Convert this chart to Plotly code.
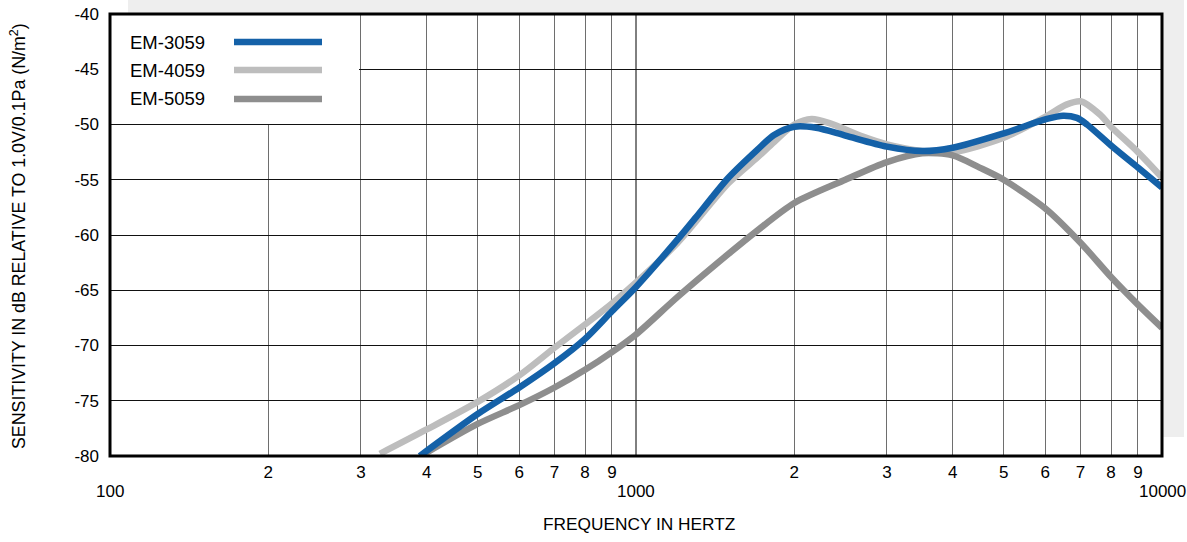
import math
import plotly.graph_objects as go

# ---- data ----
series_names = ["EM-3059", "EM-4059", "EM-5059"]

f_3059 = [388, 500, 600, 700, 800, 900, 1000, 1200, 1300, 1400, 1500, 1700, 1830, 2000, 2200,
          2500, 3000, 3500, 4000, 5000, 6040, 6485, 6890, 7200, 8000, 9000, 10000]
v_3059 = [-80.0, -76.2, -73.8, -71.6, -69.4, -66.9, -64.7, -60.4, -58.4, -56.5, -54.8, -52.3, -50.95, -50.2, -50.3,
          -51.0, -52.0, -52.4, -52.1, -50.8, -49.5, -49.2, -49.4, -50.0, -51.9, -53.9, -55.7]

f_4059 = [326, 400, 500, 600, 700, 800, 900, 1000, 1200, 1500, 1700, 1830, 2000, 2158, 2340, 2700,
          3000, 3500, 4000, 5000, 6000, 6580, 7000, 7620, 8000, 9000, 10000]
v_4059 = [-79.8, -77.6, -75.1, -72.7, -70.2, -68.1, -66.2, -64.3, -60.7, -55.3, -53.0, -51.6, -50.0, -49.5, -49.9, -51.1,
          -51.8, -52.4, -52.5, -51.2, -49.3, -48.2, -47.9, -49.1, -50.2, -52.5, -54.8]

f_5059 = [390, 500, 600, 700, 800, 900, 1000, 1200, 1500, 1700, 2000, 2500, 3000, 3500, 4000,
          4500, 5000, 6000, 7000, 8000, 9000, 10000]
v_5059 = [-80.0, -77.1, -75.4, -73.8, -72.2, -70.6, -69.0, -65.6, -61.7, -59.6, -57.1, -55.0, -53.4, -52.6, -52.8,
          -53.9, -55.0, -57.6, -60.7, -63.8, -66.3, -68.4]

x_tickvals = [200, 300, 400, 500, 600, 700, 800, 900,
              2000, 3000, 4000, 5000, 6000, 7000, 8000, 9000]
x_ticktext = ["2", "3", "4", "5", "6", "7", "8", "9",
              "2", "3", "4", "5", "6", "7", "8", "9"]
decade_vals = [100, 1000, 10000]
decade_text = ["100", "1000", "10000"]
y_tickvals = [-80, -75, -70, -65, -60, -55, -50, -45, -40]
y_ticktext = ["-80", "-75", "-70", "-65", "-60", "-55", "-50", "-45", "-40"]

x_range_log = [2, 4]
y_range = [-80, -40]

colors = {"EM-3059": "#1461a8", "EM-4059": "#bdbdbd", "EM-5059": "#8e8e8e"}
FONT = "Liberation Sans, Arial, sans-serif"

fig = go.Figure()
for name, fx, vy in [("EM-4059", f_4059, v_4059), ("EM-5059", f_5059, v_5059), ("EM-3059", f_3059, v_3059)]:
    fig.add_trace(go.Scatter(x=fx, y=vy, mode="lines", name=name,
                             line=dict(color=colors[name], width=6.5, shape="spline", smoothing=0.8),
                             showlegend=False, hoverinfo="skip"))

W, H = 1187, 542
ml, mr, mt, mb = 110, 25, 14, 86
pw, ph = W - ml - mr, H - mt - mb

def px_x(p):
    return (p - ml) / pw

def px_y(p):
    return 1 - (p - mt) / ph

def logpos(v):
    return (math.log10(v) - x_range_log[0]) / (x_range_log[1] - x_range_log[0])

shapes = []
# grey background panel behind the chart
shapes.append(dict(type="rect", xref="paper", yref="paper", layer="below",
                   x0=px_x(128), x1=px_x(1184), y0=px_y(437), y1=px_y(0),
                   fillcolor="#eeeeee", line=dict(width=0)))
# white plot area
shapes.append(dict(type="rect", xref="paper", yref="paper", layer="below",
                   x0=0, x1=1, y0=0, y1=1, fillcolor="white", line=dict(width=0)))
# decade gridline at 1000 in black
xd = logpos(1000)
shapes.append(dict(type="line", xref="paper", yref="paper", layer="below",
                   x0=xd, x1=xd, y0=0, y1=1, line=dict(color="#000000", width=1)))
# white legend box covering grid
shapes.append(dict(type="rect", xref="paper", yref="paper", layer="above",
                   x0=0, x1=px_x(359), y0=px_y(124), y1=1, fillcolor="white", line=dict(width=0)))
# plot border
shapes.append(dict(type="rect", xref="paper", yref="paper", layer="above",
                   x0=0, x1=1, y0=0, y1=1, line=dict(color="black", width=3)))

annotations = []
legend_y = [42, 70, 99]
for name, ly in zip(series_names, legend_y):
    shapes.append(dict(type="line", xref="paper", yref="paper", layer="above",
                       x0=px_x(234), x1=px_x(322), y0=px_y(ly), y1=px_y(ly),
                       line=dict(color=colors[name], width=6.5)))
    annotations.append(dict(text=name, xref="paper", yref="paper", x=px_x(128), y=px_y(ly),
                            xanchor="left", yanchor="middle", showarrow=False,
                            font=dict(family=FONT, size=18.5, color="black")))

for dv, dt in zip(decade_vals, decade_text):
    annotations.append(dict(text=dt, xref="paper", yref="paper", x=logpos(dv), y=px_y(492),
                            xanchor="center", yanchor="middle", showarrow=False,
                            font=dict(family=FONT, size=17, color="black")))

annotations.append(dict(text="FREQUENCY IN HERTZ", xref="paper", yref="paper",
                        x=px_x(639), y=px_y(524), xanchor="center", yanchor="middle",
                        showarrow=False, font=dict(family=FONT, size=17.3, color="black")))
annotations.append(dict(text="SENSITIVITY IN dB RELATIVE TO 1.0V/0.1Pa (N/m<sup>2</sup>)",
                        xref="paper", yref="paper", x=px_x(18), y=px_y(236),
                        xanchor="center", yanchor="middle", textangle=-90,
                        showarrow=False, font=dict(family=FONT, size=17.8, color="black")))

fig.update_layout(
    width=W, height=H,
    margin=dict(l=ml, r=mr, t=mt, b=mb, pad=0, autoexpand=False),
    paper_bgcolor="white", plot_bgcolor="white",
    font=dict(family=FONT, size=17, color="black"),
    shapes=shapes, annotations=annotations,
    showlegend=False,
)
fig.update_xaxes(type="log", range=x_range_log, tickmode="array",
                 tickvals=x_tickvals, ticktext=x_ticktext, tickangle=0, automargin=False,
                 showgrid=True, gridcolor="#6e6e6e", gridwidth=1,
                 zeroline=False, showline=False, ticks="",
                 ticklabelstandoff=4, tickfont=dict(family=FONT, size=17, color="black"))
fig.update_yaxes(range=y_range, tickmode="array", tickvals=y_tickvals, ticktext=y_ticktext,
                 automargin=False,
                 showgrid=True, gridcolor="#111111", gridwidth=1,
                 zeroline=False, showline=False, ticks="",
                 ticklabelstandoff=10, tickfont=dict(family=FONT, size=17, color="black"))

fig.write_html("out.html", config={"displayModeBar": False},
               post_script="document.body.style.margin='0';document.body.style.padding='0';")
